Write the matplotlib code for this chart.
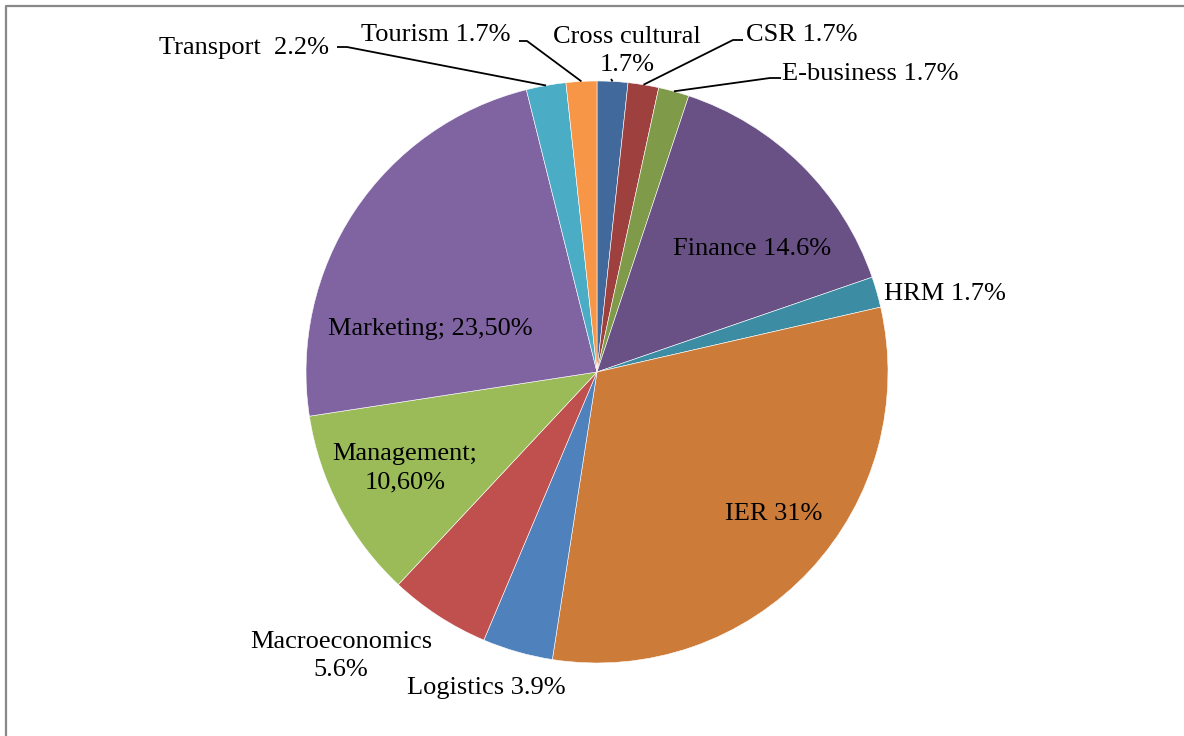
import numpy as np
import matplotlib
matplotlib.use("Agg")
import matplotlib.pyplot as plt

plt.rcParams["font.family"] = ["Liberation Serif", "DejaVu Serif"]

# 数据（顺时针，从正上方开始）
labels = ["Cross cultural\n1.7%", "CSR 1.7%", "E-business 1.7%", "Finance 14.6%",
          "HRM 1.7%", "IER 31%", "Logistics 3.9%", "Macroeconomics\n5.6%",
          "Management;\n10,60%", "Marketing; 23,50%", "Transport  2.2%", "Tourism 1.7%"]
values = [1.7, 1.7, 1.7, 14.6, 1.7, 31.0, 3.9, 5.6, 10.6, 23.5, 2.2, 1.7]
colors = ["#41699B", "#9E413E", "#7F9A48", "#695185", "#3C8DA3", "#CC7B38",
          "#4F81BD", "#C0504D", "#9BBB59", "#8064A2", "#4BACC6", "#F79646"]

W, H = 1184, 736
fig = plt.figure(figsize=(W / 100, H / 100), dpi=100)
ax = fig.add_axes([0, 0, 1, 1])

cx, cy, r = 597, H - 372, 291
wedges, _ = ax.pie(values, colors=colors, startangle=90, counterclock=False,
                   center=(cx, cy), radius=r, frame=True,
                   wedgeprops=dict(edgecolor="white", linewidth=0.4))
ax.set_xlim(0, W)
ax.set_ylim(0, H)
ax.set_aspect("auto")
ax.axis("off")

# 标签位置（像素，y 向下）
pos = [(627, 51), (802, 35), (870, 74), (752, 249), (945, 294), (774, 514),
       (486, 688), (341, 656), (405, 468), (430, 329), (244, 48), (436, 35)]
for lab, (x, y) in zip(labels, pos):
    ax.text(x, H - y, lab, ha="center", va="center", fontsize=19,
            linespacing=1.38, color="black")

# 引导线
elbows = {0: [(611, 79)], 1: [(743, 40), (733, 40)], 2: [(781, 78), (770, 78)],
          10: [(337, 47), (347, 47)], 11: [(519, 41), (527, 41)]}
for i, pts in elbows.items():
    w = wedges[i]
    a = np.deg2rad((w.theta1 + w.theta2) / 2)
    ex, ey = cx + r * np.cos(a), cy + r * np.sin(a)
    xs = [p[0] for p in pts] + [ex]
    ys = [H - p[1] for p in pts] + [ey]
    ax.plot(xs, ys, color="black", linewidth=1.3, solid_capstyle="butt")

# 外框
ax.plot([5.5, 5.5, W], [0, H - 5.5, H - 5.5], color="#888888", linewidth=1.6)

fig.savefig("out.png", dpi=100)
